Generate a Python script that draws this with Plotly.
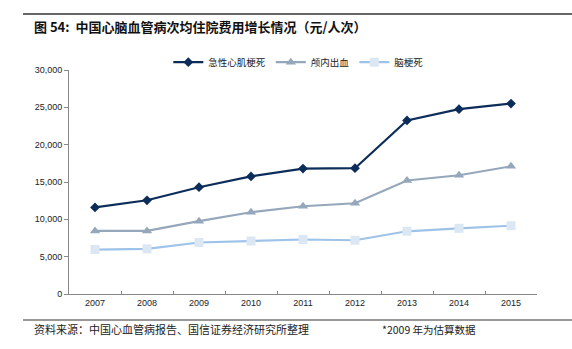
import plotly.graph_objects as go

years = ["2007", "2008", "2009", "2010", "2011", "2012", "2013", "2014", "2015"]
ami = [11600, 12550, 14300, 15750, 16800, 16850, 23250, 24750, 25500]
ich = [8450, 8450, 9750, 10950, 11750, 12150, 15200, 15900, 17100]
ci = [5950, 6050, 6900, 7100, 7300, 7200, 8400, 8800, 9150]
series_names = ["急性心肌梗死", "颅内出血", "脑梗死"]
y_ticks = [0, 5000, 10000, 15000, 20000, 25000, 30000]
y_tick_labels = ["0", "5,000", "10,000", "15,000", "20,000", "25,000", "30,000"]

CJK = "Noto Sans CJK SC"
fig = go.Figure()
fig.add_trace(go.Scatter(
    x=years, y=ami, name=series_names[0], mode="lines+markers",
    line=dict(color="#0c2c5a", width=2.2),
    marker=dict(symbol="diamond", size=7.5, color="#0c2c5a")))
fig.add_trace(go.Scatter(
    x=years, y=ich, name=series_names[1], mode="lines+markers",
    line=dict(color="#95a7bb", width=2.2),
    marker=dict(symbol="triangle-up", size=9, color="#95a7bb")))
fig.add_trace(go.Scatter(
    x=years, y=ci, name=series_names[2], mode="lines+markers",
    line=dict(color="#9ec3e8", width=2.2),
    marker=dict(symbol="square", size=9, color="#dce7f4")))

fig.update_layout(
    width=572, height=349,
    margin=dict(l=69, r=35, t=70, b=55),
    paper_bgcolor="white", plot_bgcolor="white",
    font=dict(family="Liberation Sans, Arial", size=9, color="#222"),
    showlegend=True,
    legend=dict(orientation="h", x=0.49, xanchor="center", y=1.035, yanchor="middle",
                font=dict(family=CJK, size=9.5, color="#222"),
                itemwidth=30, tracegroupgap=0, bgcolor="rgba(0,0,0,0)"),
    xaxis=dict(type="category", range=[-0.5, 8.5], showgrid=False,
               showline=True, linecolor="#888", linewidth=1,
               ticks="inside", tickson="boundaries", ticklen=3, tickcolor="#888",
               tickfont=dict(size=9, color="#222")),
    yaxis=dict(range=[0, 30000], tickvals=y_ticks, ticktext=y_tick_labels,
               showgrid=False, showline=True, linecolor="#888", linewidth=1,
               ticks="outside", ticklen=4, tickcolor="#888", zeroline=False,
               tickfont=dict(size=9, color="#222")),
    shapes=[
        dict(type="line", xref="paper", yref="paper",
             x0=(23 - 69) / 468, x1=(572 - 69) / 468,
             y0=(294 - 14) / 224, y1=(294 - 14) / 224,
             line=dict(color="#666", width=2)),
        dict(type="line", xref="paper", yref="paper",
             x0=(23 - 69) / 468, x1=(572 - 69) / 468,
             y0=(294 - 320) / 224, y1=(294 - 320) / 224,
             line=dict(color="#999", width=2)),
    ],
    annotations=[
        dict(text="<b>图 54:  中国心脑血管病次均住院费用增长情况（元/人次）</b>",
             xref="paper", yref="paper", x=(32 - 69) / 468, y=(294 - 26) / 224,
             xanchor="left", yanchor="middle", showarrow=False,
             font=dict(family=CJK, size=13, color="#111")),
        dict(text="资料来源：中国心血管病报告、国信证券经济研究所整理",
             xref="paper", yref="paper", x=(32 - 69) / 468, y=(294 - 329) / 224,
             xanchor="left", yanchor="middle", showarrow=False,
             font=dict(family=CJK, size=11, color="#222")),
        dict(text="*2009 年为估算数据",
             xref="paper", yref="paper", x=(380 - 69) / 468, y=(294 - 329) / 224,
             xanchor="left", yanchor="middle", showarrow=False,
             font=dict(family=CJK, size=10.5, color="#222")),
    ],
)

fig.write_html("out.html")
